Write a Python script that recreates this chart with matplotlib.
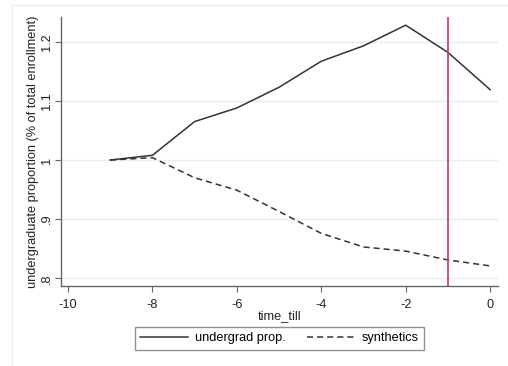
import matplotlib
matplotlib.use('Agg')
import matplotlib.pyplot as plt
from matplotlib.patches import Rectangle

plt.rcParams['font.family'] = ['Liberation Sans', 'DejaVu Sans']

time_till = [-9, -8, -7, -6, -5, -4, -3, -2, -1, 0]
undergrad = [1.000, 1.008, 1.065, 1.088, 1.123, 1.167, 1.193, 1.228, 1.182, 1.119]
synthetics = [1.000, 1.004, 0.970, 0.949, 0.913, 0.876, 0.853, 0.846, 0.831, 0.821]
xticks = [-10, -8, -6, -4, -2, 0]
yticks = [0.8, 0.9, 1.0, 1.1, 1.2]
ytick_labels = ['.8', '.9', '1', '1.1', '1.2']
treat_time = -1

fig = plt.figure(figsize=(5.08, 3.66), dpi=100)
# light outer border of the graph region
fig.patches.append(Rectangle((12 / 508, -0.05), 1.2, 1 - 4.7 / 366 + 0.05,
                             transform=fig.transFigure, fill=False,
                             edgecolor='#e6eef0', lw=1))

ax = fig.add_axes([61 / 508, 1 - 286 / 366, (497.7 - 61) / 508, (286 - 17) / 366])

ax.plot(time_till, undergrad, color='#333333', lw=1.1, label='undergrad prop.')
ax.plot(time_till, synthetics, color='#333333', lw=1.1, ls=(0, (4, 2.6)), label='synthetics')
ax.axvline(treat_time, color='#cc3366', lw=1.2)

ax.set_xlim(-10.166, 0.18)
ax.set_ylim(0.787, 1.2418)
ax.set_xticks(xticks)
ax.set_xticklabels([str(t) for t in xticks], fontsize=9.2)
ax.set_yticks(yticks)
ax.set_yticklabels(ytick_labels, fontsize=9.2, rotation=90, va='center')
ax.yaxis.grid(True, color='#e6eef0', lw=1)
ax.set_axisbelow(True)

for side in ['top', 'right']:
    ax.spines[side].set_visible(False)
for side in ['left', 'bottom']:
    ax.spines[side].set_color('#666666')
    ax.spines[side].set_linewidth(1)
ax.tick_params(direction='out', length=4, color='#666666', labelcolor='#222222')
ax.tick_params(axis='x', pad=5)
ax.tick_params(axis='y', pad=2)

ax.set_xlabel('time_till', fontsize=9.2, color='#222222', labelpad=0)
ax.set_ylabel('undergraduate proportion (% of total enrollment)', fontsize=9.2,
              color='#222222', labelpad=1)

leg = fig.legend(loc='center', bbox_to_anchor=(279.5 / 508, 1 - 338.5 / 366), ncol=2,
                 fontsize=9.2, frameon=True, fancybox=False, edgecolor='#777777',
                 handlelength=3.7, handletextpad=0.6, columnspacing=1.6,
                 borderpad=0.4)
leg.get_frame().set_linewidth(1)

fig.savefig('out.png', dpi=100)
